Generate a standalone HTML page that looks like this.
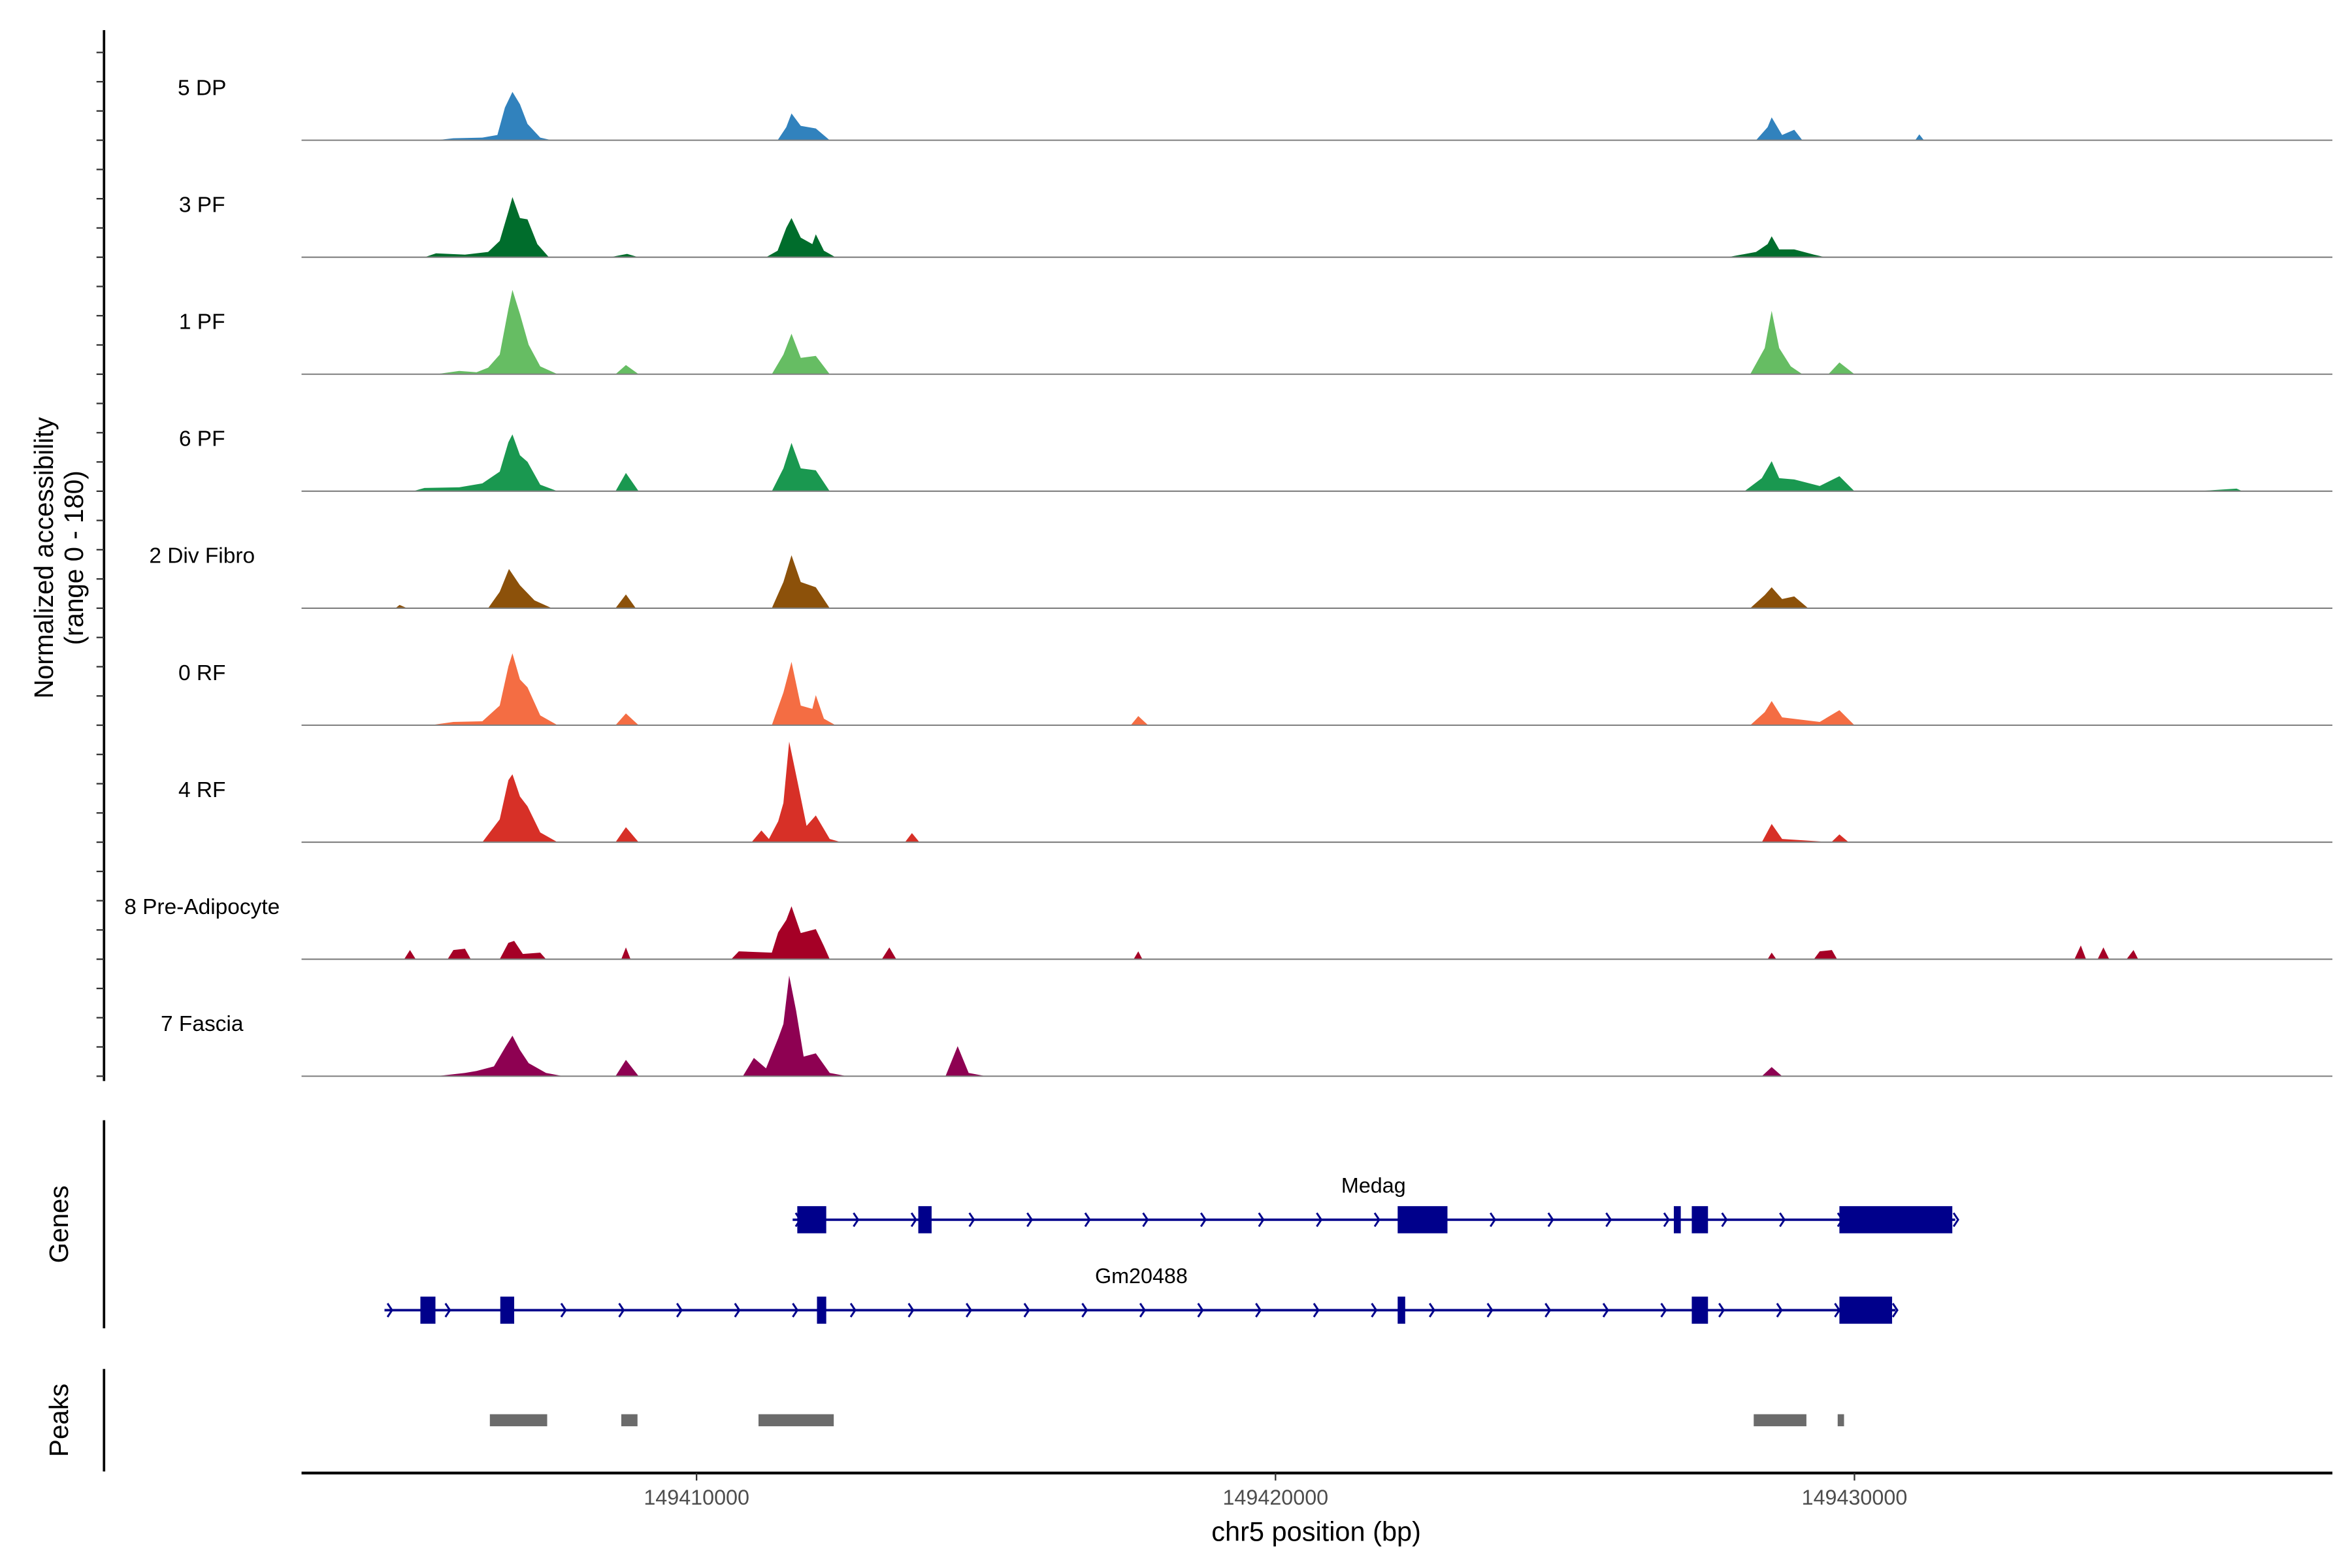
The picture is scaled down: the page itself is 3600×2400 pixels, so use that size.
<!DOCTYPE html>
<html><head><meta charset="utf-8"><style>
html,body{margin:0;padding:0;background:#fff}
svg{display:block}
text{font-family:"Liberation Sans",Arial,sans-serif}
</style></head><body>
<svg id="chart" width="3600" height="2400" viewBox="0 0 1560 1040" xmlns="http://www.w3.org/2000/svg">
<g id="tracks"></g>
<g id="genes"></g>
<g id="peaks"></g>
<g id="axes"></g>
</svg>
<script>
// positions in kb relative to chr5:149400000; values in normalized accessibility (0-180)
const trackNames = ["5 DP","3 PF","1 PF","6 PF","2 Div Fibro","0 RF","4 RF","8 Pre-Adipocyte","7 Fascia"];
const trackColors = ["#3182bd","#006d2c","#66bd63","#1a9850","#8c510a","#f46d43","#d73027","#a50026","#8e0152"];
const cov5DP = [[5.5,0],[5.8,3],[6.3,4],[6.56,8],[6.69,50],[6.82,74],[6.95,55],[7.08,25],[7.3,4],[7.5,0],[11.4,0],[11.55,20],[11.64,41],[11.8,22],[12.06,18],[12.3,0],[28.3,0],[28.5,20],[28.57,35],[28.75,8],[28.96,16],[29.1,0],[31.05,0],[31.12,9],[31.2,0]];
const cov3PF = [[5.3,0],[5.5,6],[6.0,4],[6.4,8],[6.6,25],[6.75,70],[6.82,92],[6.95,60],[7.08,58],[7.25,20],[7.45,0],[8.5,0],[8.8,5],[9.0,0],[11.2,0],[11.4,10],[11.55,45],[11.64,60],[11.8,30],[12.0,20],[12.06,35],[12.2,10],[12.4,0],[27.8,0],[28.3,8],[28.5,20],[28.57,32],[28.7,12],[28.96,12],[29.3,4],[29.5,0]];
const cov1PF = [[5.5,0],[5.9,5],[6.2,3],[6.4,10],[6.6,30],[6.75,100],[6.82,129],[6.95,92],[7.1,45],[7.3,12],[7.6,0],[8.6,0],[8.78,14],[9.0,0],[11.3,0],[11.5,30],[11.64,62],[11.8,25],[12.06,28],[12.3,0],[28.2,0],[28.45,40],[28.57,97],[28.7,40],[28.9,12],[29.1,0],[29.55,0],[29.74,18],[30.0,0]];
const cov6PF = [[5.1,0],[5.3,5],[5.9,6],[6.3,12],[6.6,30],[6.75,75],[6.82,87],[6.95,55],[7.08,45],[7.3,10],[7.6,0],[8.6,0],[8.78,28],[9.0,0],[11.3,0],[11.5,35],[11.64,74],[11.8,35],[12.06,32],[12.3,0],[28.1,0],[28.4,20],[28.57,46],[28.7,20],[28.96,18],[29.4,8],[29.74,23],[30.0,0],[35.9,0],[36.6,4],[36.7,0]];
const cov2DF = [[4.8,0],[4.87,5],[5.0,0],[6.4,0],[6.6,25],[6.76,60],[6.95,35],[7.2,12],[7.5,0],[8.6,0],[8.78,21],[8.95,0],[11.3,0],[11.5,40],[11.64,81],[11.8,40],[12.06,32],[12.3,0],[28.2,0],[28.45,20],[28.57,32],[28.75,14],[28.96,18],[29.2,0]];
const cov0RF = [[5.4,0],[5.8,5],[6.3,6],[6.6,30],[6.75,90],[6.82,110],[6.95,70],[7.08,58],[7.3,15],[7.6,0],[8.6,0],[8.78,18],[9.0,0],[11.3,0],[11.5,50],[11.64,97],[11.8,30],[12.0,25],[12.06,46],[12.2,10],[12.4,0],[17.5,0],[17.63,14],[17.8,0],[28.2,0],[28.45,20],[28.57,37],[28.75,12],[29.4,5],[29.74,23],[30.0,0]];
const cov4RF = [[6.3,0],[6.6,35],[6.75,95],[6.82,104],[6.95,70],[7.08,55],[7.3,15],[7.6,0],[8.6,0],[8.78,23],[9.0,0],[10.95,0],[11.12,18],[11.25,5],[11.41,32],[11.5,60],[11.6,154],[11.75,90],[11.9,25],[12.06,41],[12.3,5],[12.5,0],[13.6,0],[13.72,14],[13.85,0],[28.4,0],[28.57,28],[28.75,5],[29.6,0],[29.74,12],[29.9,0]];
const cov8PA = [[4.95,0],[5.05,14],[5.15,0],[5.7,0],[5.8,14],[6.0,16],[6.1,0],[6.6,0],[6.75,25],[6.85,28],[7.0,8],[7.3,10],[7.4,0],[8.7,0],[8.78,18],[8.86,0],[10.6,0],[10.73,12],[11.3,10],[11.41,41],[11.55,60],[11.64,81],[11.8,40],[12.06,46],[12.2,20],[12.3,0],[13.2,0],[13.33,18],[13.45,0],[17.55,0],[17.63,12],[17.7,0],[28.5,0],[28.57,10],[28.65,0],[29.3,0],[29.4,12],[29.61,14],[29.7,0],[33.8,0],[33.91,21],[34.0,0],[34.2,0],[34.3,18],[34.4,0],[34.7,0],[34.82,14],[34.9,0]];
const cov7FA = [[5.5,0],[6.0,5],[6.2,8],[6.5,15],[6.7,45],[6.82,62],[6.95,40],[7.1,20],[7.4,5],[7.7,0],[8.6,0],[8.78,25],[9.0,0],[10.8,0],[10.99,28],[11.2,12],[11.41,58],[11.5,80],[11.6,154],[11.72,100],[11.85,30],[12.06,35],[12.3,5],[12.6,0],[14.3,0],[14.51,46],[14.7,5],[15.0,0],[28.4,0],[28.57,14],[28.75,0]];
const coverage = [cov5DP,cov3PF,cov1PF,cov6PF,cov2DF,cov0RF,cov4RF,cov8PA,cov7FA];
const geneNames = ["Medag","Gm20488"];
const geneSpans = [[11.66,31.74],[4.61,30.71]];
const medagExons = [[11.74,12.24],[13.83,14.06],[22.11,22.97],[26.88,27.0],[27.19,27.47],[29.74,31.69]];
const gmExons = [[5.23,5.49],[6.61,6.85],[12.08,12.24],[22.11,22.24],[27.19,27.47],[29.74,30.65]];
const peakRegions = [[6.43,7.42],[8.70,8.98],[11.07,12.37],[28.26,29.17],[29.71,29.82]];
const xTicks = [10,20,30];
const xTickLabels = ["149410000","149420000","149430000"];

const NS="http://www.w3.org/2000/svg";
function mk(tag,attrs,parent){const e=document.createElementNS(NS,tag);for(const k in attrs)e.setAttribute(k,attrs[k]);parent.appendChild(e);return e;}
const X = kb => 462 + (kb-10)*38.4;
const firstBase = 93, trackStep = 77.6, trackH = 78, yMax = 180;
const Y = (i,v) => firstBase + i*trackStep - v/yMax*trackH;

const gT=document.getElementById('tracks');
coverage.forEach((pts,i)=>{
  const base=Y(i,0);
  const lab=mk('text',{x:134,y:base-30,'font-size':14.5,'text-anchor':'middle',fill:'#000'},gT);
  lab.textContent=trackNames[i];
  
  
  let d='M'+X(pts[0][0])+','+base;
  pts.forEach(p=>{d+=' L'+X(p[0]).toFixed(2)+','+Y(i,p[1]).toFixed(2);});
  d+=' L'+X(pts[pts.length-1][0])+','+base+' Z';
  const a=mk('path',{d:d,fill:trackColors[i]},gT);
  
  
  const bl=mk('line',{x1:200,x2:1547,y1:base,y2:base,stroke:'#7f7f7f','stroke-width':0.9},gT);
  
  
});

const gG=document.getElementById('genes');
const geneY=[809,869], labelY=[791,851];
[medagExons,gmExons].forEach((ex,gi)=>{
  const y=geneY[gi], s=geneSpans[gi];
  const ln=mk('line',{x1:X(s[0]),x2:X(s[1]),y1:y,y2:y,stroke:'#00008b','stroke-width':1.6},gG);
  
  
  for(let ax=X(s[0])+2;ax<X(s[1]);ax+=38.4){
    const ar=mk('path',{d:`M${ax},${y-4.5} L${ax+3},${y} L${ax},${y+4.5}`,fill:'none',stroke:'#00008b','stroke-width':1.3},gG);
    
    
  }
  ex.forEach(e=>{
    const r=mk('rect',{x:X(e[0]),y:y-9,width:X(e[1])-X(e[0]),height:18,fill:'#00008b'},gG);
    
    
  });
  const t=mk('text',{x:gi==0?911:757,y:labelY[gi],'font-size':14,'text-anchor':'middle',fill:'#000'},gG);
  t.textContent=geneNames[gi];
  
  
});

const gP=document.getElementById('peaks');
peakRegions.forEach(p=>{
  const r=mk('rect',{x:X(p[0]),y:938,width:X(p[1])-X(p[0]),height:8,fill:'#6b6b6b'},gP);
  
  
});

const gA=document.getElementById('axes');
function L(x1,y1,x2,y2,w,c,name){const l=mk('line',{x1,y1,x2,y2,stroke:c||'#000','stroke-width':w},gA);return l;}
L(69,20,69,717,1.6,'#000','y-axis-line');
for(let y=firstBase+8*trackStep;y>=20;y-=trackStep/4){L(64,y,69,y,1,'#333','y-axis-tick');}
L(69,743,69,881,1.6,'#000','genes-axis-line');
L(69,908,69,976,1.6,'#000','peaks-axis-line');
L(200,977,1547,977,1.8,'#000','x-axis-line');
xTicks.forEach((t,i)=>{
  L(X(t),977,X(t),982,1,'#333','x-axis-tick');
  const tx=mk('text',{x:X(t),y:998,'font-size':14,'text-anchor':'middle',fill:'#4d4d4d'},gA);
  tx.textContent=xTickLabels[i];
  
  
});
function T(txt,x,y,size,rot,name){const t=mk('text',{x,y,'font-size':size,'text-anchor':'middle',fill:'#000',transform:rot?`rotate(-90 ${x} ${y})`:''},gA);t.textContent=txt;}
T('chr5 position (bp)',873,1022,18,false,'x-axis-title');
T('Normalized accessibility',35,370,17.5,true,'y-axis-title');
T('(range 0 - 180)',55,370,17.5,true,'y-axis-subtitle');
T('Genes',45,812,17.5,true,'genes-axis-title');
T('Peaks',45,942,17.5,true,'peaks-axis-title');
</script>
</body></html>
